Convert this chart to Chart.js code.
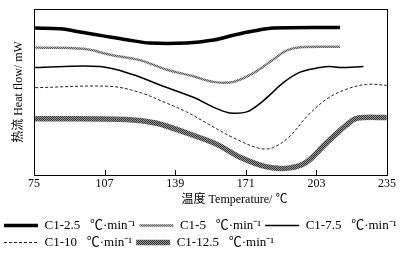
<!DOCTYPE html>
<html>
<head>
<meta charset="utf-8">
<script src="https://cdn.jsdelivr.net/npm/chart.js@4/dist/chart.umd.min.js"></script>
<style>
  html, body { margin: 0; padding: 0; background: #fff; }
  #wrap { width: 404px; height: 260px; }
</style>
</head>
<body>
<div id="wrap"><canvas id="dscChart"></canvas></div>
<script>
// === DSC CURVES ===
const seriesNames = ['C1-2.5   \u2103\u00b7min\u207b\u00b9', 'C1-5   \u2103\u00b7min\u207b\u00b9', 'C1-7.5   \u2103\u00b7min\u207b\u00b9',
                     'C1-10   \u2103\u00b7min\u207b\u00b9', 'C1-12.5   \u2103\u00b7min\u207b\u00b9'];
const xTicks = [75, 107, 139, 171, 203, 235];

const temp25 = [75.5, 86.8, 97.4, 106.4, 117, 127.6, 144.2, 156.3, 165.4, 174.4, 183.5, 213.7];
const heat25 = [88.5, 88.1, 85.8, 83.8, 81.5, 79.5, 79.5, 81.3, 84.2, 86.7, 88.5, 88.9];

const temp5 = [75.5, 97.4, 109.5, 123, 135.1, 147.2, 156.3, 165.4, 174.4, 182, 189.5, 195.6, 213.7];
const heat5 = [76.8, 76.0, 72.5, 69.2, 63.4, 59.5, 56.1, 56.1, 61.4, 68.2, 75.0, 77.0, 77.2];

const temp75 = [75.5, 104.9, 120, 132.1, 147.2, 157.8, 163.8, 171.4, 179, 188, 195.6, 204.6, 209.2, 213.7, 224.3];
const heat75 = [64.7, 65.3, 60.4, 54.2, 46.8, 40.0, 37.4, 38.0, 44.8, 55.6, 62.0, 64.7, 65.3, 64.7, 65.3];

const temp10 = [75.5, 109.5, 123, 135.1, 144.2, 153.3, 165.4, 177.4, 183.5, 191, 198.6, 207.7, 216.7, 225.8, 234.9];
const heat10 = [52.6, 53.4, 49.7, 43.3, 38.0, 31.2, 22.4, 16.0, 16.6, 23.4, 35.1, 45.8, 51.7, 54.6, 54.0];

const temp125 = [75.5, 117, 130.6, 144.2, 157.8, 168.4, 180.5, 191, 198.6, 207.7, 216.7, 221.3, 234.9];
const heat125 = [33.9, 33.5, 31.2, 25.3, 18.5, 10.7, 4.9, 4.3, 7.8, 19.5, 30.2, 34.1, 34.7];

const FONT = '"Liberation Serif", "Noto Sans CJK SC", serif';

function makePattern(dark, light) {
    const c = document.createElement('canvas');
    c.width = 2; c.height = 2;
    const g = c.getContext('2d');
    g.fillStyle = light; g.fillRect(0, 0, 2, 2);
    g.fillStyle = dark; g.fillRect(0, 0, 1, 1); g.fillRect(1, 1, 1, 1);
    return g.createPattern(c, 'repeat');
}

const toPoints = (xs, ys) => xs.map((x, i) => ({ x, y: ys[i] }));

// box round the plot + short inward ticks on the bottom axis
const frame = {
    id: 'frame',
    afterDraw(chart) {
        const { ctx, chartArea: a, scales: { x } } = chart;
        ctx.save();
        ctx.strokeStyle = '#000';
        ctx.lineWidth = 1;
        ctx.strokeRect(a.left + 0.5, a.top + 0.5, a.right - a.left, a.bottom - a.top);
        ctx.beginPath();
        xTicks.forEach(t => {
            const px = Math.round(x.getPixelForValue(t)) + 0.5;
            ctx.moveTo(px, a.bottom);
            ctx.lineTo(px, a.bottom - 5);
        });
        ctx.stroke();
        ctx.restore();
    }
};

const ctx = document.getElementById('dscChart').getContext('2d');
const common = { fill: false, tension: 0.35, pointRadius: 0, pointStyle: 'line' };
const defaultLabels = Chart.defaults.plugins.legend.labels.generateLabels;

new Chart(ctx, {
    type: 'line',
    data: {
        datasets: [
            { ...common, label: seriesNames[0], data: toPoints(temp25, heat25), borderColor: '#000', borderWidth: 3.5 },
            { ...common, label: seriesNames[1], data: toPoints(temp5, heat5), borderColor: makePattern('#555', '#bbb'), borderWidth: 2.5 },
            { ...common, label: seriesNames[2], data: toPoints(temp75, heat75), borderColor: '#000', borderWidth: 1.5 },
            { ...common, label: seriesNames[3], data: toPoints(temp10, heat10), borderColor: '#222', borderWidth: 1, borderDash: [3, 2] },
            { ...common, label: seriesNames[4], data: toPoints(temp125, heat125), borderColor: makePattern('#333', '#999'), borderWidth: 5.5 }
        ]
    },
    options: {
        responsive: true, maintainAspectRatio: false, animation: false,
        layout: { padding: { top: 9, right: 0, left: 0, bottom: 1 } },
        plugins: {
            legend: {
                display: true, position: 'bottom', align: 'start',
                labels: {
                    color: '#000', font: { family: FONT, size: 13 }, usePointStyle: true, pointStyleWidth: 34, padding: 4,
                    generateLabels: chart => defaultLabels(chart).map(l => ({ ...l, lineDash: chart.data.datasets[l.datasetIndex].borderDash || [] }))
                }
            },
            tooltip: { enabled: false }
        },
        scales: {
            x: {
                type: 'linear', min: 75, max: 235,
                afterBuildTicks: s => { s.ticks = xTicks.map(v => ({ value: v })); },
                grid: { display: false, drawTicks: false },
                border: { display: true, color: '#000' },
                ticks: { color: '#000', font: { family: FONT, size: 12 }, padding: 2, maxRotation: 0 },
                title: { display: true, text: '\u2003\u2003\u2003\u2003温度 Temperature/ \u2103', color: '#000', font: { family: FONT, size: 12 }, padding: { top: 1, bottom: 8 } },
                afterFit: s => { s.height = 40; }
            },
            y: {
                min: 0, max: 100,
                grid: { display: false },
                border: { display: true, color: '#000' },
                ticks: { display: false },
                title: { display: true, text: '热流 Heat flow/ mW', color: '#000', font: { family: FONT, size: 12 }, padding: { top: 12, bottom: 0 } },
                afterFit: s => { s.width = 34; }
            },
            yRight: {
                position: 'right',
                grid: { display: false },
                border: { display: false },
                ticks: { display: false },
                afterFit: s => { s.width = 17; }
            }
        }
    },
    plugins: [frame]
});
</script>
</body>
</html>
